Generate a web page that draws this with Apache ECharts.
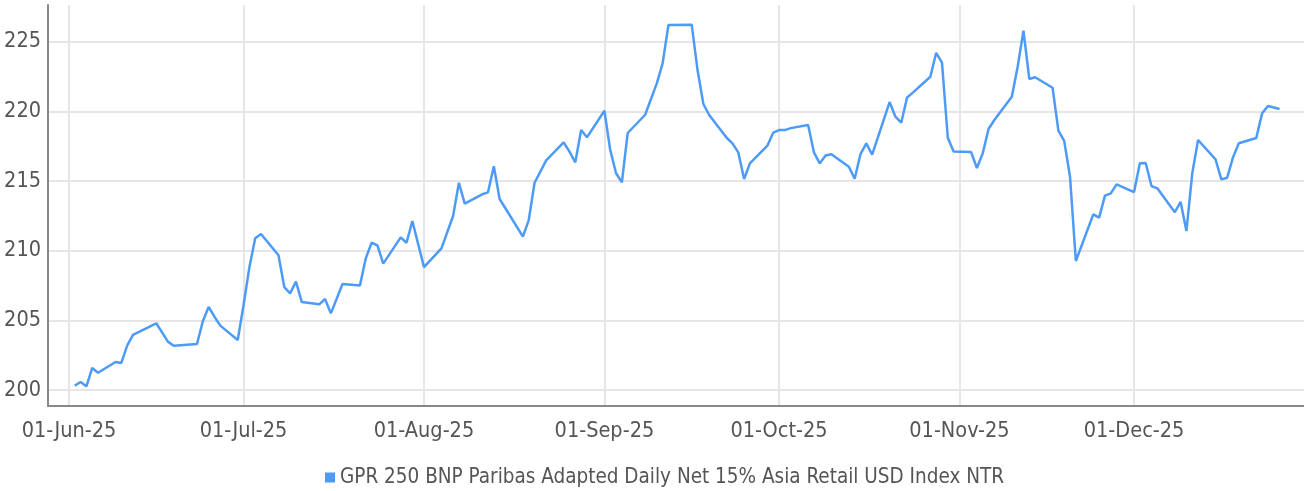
<!DOCTYPE html>
<html>
<head>
<meta charset="utf-8">
<script src="https://cdn.jsdelivr.net/npm/echarts@6/dist/echarts.min.js"></script>
<style>
html,body{margin:0;padding:0;background:#fff;}
#chart{width:1304px;height:491px;}
</style>
</head>
<body>
<div id="chart"></div>
<script>
const seriesName = 'GPR 250 BNP Paribas Adapted Daily Net 15% Asia Retail USD Index NTR';
const dates = [
  '2025-06-02','2025-06-03','2025-06-04','2025-06-05','2025-06-06','2025-06-09','2025-06-10','2025-06-11','2025-06-12','2025-06-16',
  '2025-06-18','2025-06-19','2025-06-23','2025-06-24','2025-06-25','2025-06-26','2025-06-27','2025-06-30','2025-07-01','2025-07-02',
  '2025-07-03','2025-07-04','2025-07-07','2025-07-08','2025-07-09','2025-07-10','2025-07-11','2025-07-14','2025-07-15','2025-07-16',
  '2025-07-18','2025-07-21','2025-07-22','2025-07-23','2025-07-24','2025-07-25','2025-07-28','2025-07-29','2025-07-30','2025-08-01',
  '2025-08-04','2025-08-06','2025-08-07','2025-08-08','2025-08-11','2025-08-12','2025-08-13','2025-08-14','2025-08-18','2025-08-19',
  '2025-08-20','2025-08-22','2025-08-25','2025-08-26','2025-08-27','2025-08-28','2025-08-29','2025-09-01','2025-09-02','2025-09-03',
  '2025-09-04','2025-09-05','2025-09-08','2025-09-10','2025-09-11','2025-09-12','2025-09-16','2025-09-17','2025-09-18','2025-09-19',
  '2025-09-22','2025-09-23','2025-09-24','2025-09-25','2025-09-26','2025-09-29','2025-09-30','2025-10-01','2025-10-02','2025-10-03',
  '2025-10-06','2025-10-07','2025-10-08','2025-10-09','2025-10-10','2025-10-13','2025-10-14','2025-10-15','2025-10-16','2025-10-17',
  '2025-10-20','2025-10-21','2025-10-22','2025-10-23','2025-10-24','2025-10-27','2025-10-28','2025-10-29','2025-10-30','2025-10-31',
  '2025-11-03','2025-11-04','2025-11-05','2025-11-06','2025-11-07','2025-11-10','2025-11-11','2025-11-12','2025-11-13','2025-11-14',
  '2025-11-17','2025-11-18','2025-11-19','2025-11-20','2025-11-21','2025-11-24','2025-11-25','2025-11-26','2025-11-27','2025-11-28',
  '2025-12-01','2025-12-02','2025-12-03','2025-12-04','2025-12-05','2025-12-08','2025-12-09','2025-12-10','2025-12-11','2025-12-12',
  '2025-12-15','2025-12-16','2025-12-17','2025-12-18','2025-12-19','2025-12-22','2025-12-23','2025-12-24','2025-12-26'
];
const values = [
  200.31,200.57,200.26,201.58,201.24,202.01,201.94,203.18,203.95,204.79,
  203.47,203.18,203.30,204.93,205.96,205.26,204.62,203.59,206.10,208.81,
  210.89,211.20,209.67,207.39,206.94,207.78,206.32,206.15,206.53,205.50,
  207.61,207.51,209.45,210.57,210.38,209.07,210.96,210.57,212.13,208.82,
  210.17,212.49,214.88,213.38,214.05,214.19,216.06,213.71,211.01,212.20,
  214.88,216.49,217.78,217.11,216.34,218.66,218.14,220.05,217.23,215.56,
  214.90,218.45,219.76,222.01,223.45,226.20,226.23,222.97,220.53,219.74,
  218.11,217.71,217.06,215.15,216.27,217.54,218.47,218.66,218.66,218.80,
  219.02,217.06,216.27,216.84,216.92,216.03,215.17,216.94,217.71,216.89,
  220.67,219.62,219.19,221.00,221.35,222.49,224.21,223.50,218.11,217.13,
  217.08,215.94,216.99,218.74,219.38,221.06,223.21,225.79,222.33,222.45,
  221.70,218.62,217.88,215.31,209.26,212.61,212.37,213.95,214.12,214.76,
  214.21,216.27,216.30,214.64,214.48,212.76,213.50,211.41,215.55,217.95,
  216.56,215.12,215.24,216.70,217.71,218.09,219.86,220.39,220.17
];
const yTicks = [200, 205, 210, 215, 220, 225];
const monthNames = ['Jan','Feb','Mar','Apr','May','Jun','Jul','Aug','Sep','Oct','Nov','Dec'];

const DAY = 86400000;
const xMin = Date.UTC(2025, 5, 1) - 3.6 * DAY;
const xMax = Date.UTC(2025, 11, 1) + 29.2 * DAY;
const seriesData = dates.map((d, i) => [d, values[i]]);

const FONT = "'DejaVu Sans Condensed', 'Liberation Sans Narrow', sans-serif";
const chart = echarts.init(document.getElementById('chart'), null, {renderer: 'canvas'});
chart.setOption({
  useUTC: true,
  animation: false,
  backgroundColor: '#ffffff',
  textStyle: {fontFamily: FONT},
  grid: {left: 48, right: 0, top: 5, bottom: 85, containLabel: false, outerBoundsMode: 'none'},
  legend: {
    bottom: -2,
    left: 320,
    icon: 'rect',
    itemWidth: 10,
    itemHeight: 10,
    itemGap: 5,
    textStyle: {fontFamily: FONT, fontSize: 20.5, color: '#555555'},
    data: [seriesName]
  },
  xAxis: {
    type: 'time',
    min: xMin,
    max: xMax,
    splitNumber: 7,
    axisLine: {show: true, lineStyle: {color: '#888888', width: 2}},
    axisTick: {show: false},
    splitLine: {show: true, showMinLine: false, showMaxLine: false, lineStyle: {color: '#e6e6e6', width: 2}},
    axisLabel: {
      show: true,
      showMinLabel: false,
      showMaxLabel: false,
      margin: 14,
      fontFamily: FONT,
      fontSize: 21.5,
      color: '#555555',
      hideOverlap: false,
      formatter: function (val) {
        const d = new Date(val);
        const dd = String(d.getUTCDate()).padStart(2, '0');
        const yy = String(d.getUTCFullYear()).slice(2);
        return dd + '-' + monthNames[d.getUTCMonth()] + '-' + yy;
      }
    }
  },
  yAxis: {
    type: 'value',
    min: 198.85,
    max: 227.64,
    splitNumber: 5,
    axisLine: {show: true, lineStyle: {color: '#888888', width: 2}},
    axisTick: {show: false},
    splitLine: {show: true, showMinLine: false, showMaxLine: false, lineStyle: {color: '#e6e6e6', width: 2}},
    axisLabel: {
      show: true,
      showMinLabel: false,
      showMaxLabel: false,
      margin: 7,
      fontFamily: FONT,
      fontSize: 21.5,
      color: '#555555',
      formatter: function (v) { return yTicks.indexOf(Math.round(v)) >= 0 && Math.abs(v - Math.round(v)) < 1e-6 ? String(Math.round(v)) : ''; }
    }
  },
  series: [{
    name: seriesName,
    type: 'line',
    data: seriesData,
    showSymbol: false,
    smooth: false,
    color: '#4d9bf7',
    lineStyle: {color: '#4d9bf7', width: 2.5}
  }]
});
</script>
</body>
</html>
